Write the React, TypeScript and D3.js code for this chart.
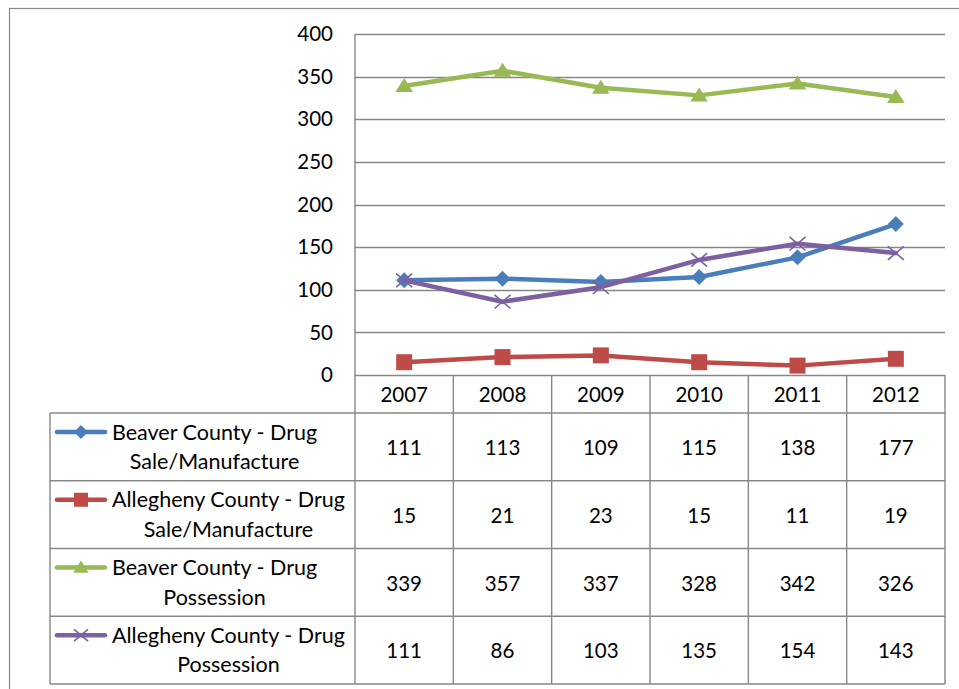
import React, { useEffect, useRef } from "react";
import * as d3 from "d3";

// Drug arrests by county, 2007–2012
const years = ["2007", "2008", "2009", "2010", "2011", "2012"];
const seriesNames = [
  ["Beaver County - Drug", "Sale/Manufacture"],
  ["Allegheny County - Drug", "Sale/Manufacture"],
  ["Beaver County - Drug", "Possession"],
  ["Allegheny County - Drug", "Possession"],
];
const beaverSale = [111, 113, 109, 115, 138, 177];
const alleghenySale = [15, 21, 23, 15, 11, 19];
const beaverPossession = [339, 357, 337, 328, 342, 326];
const alleghenyPossession = [111, 86, 103, 135, 154, 143];
const yTicks = [0, 50, 100, 150, 200, 250, 300, 350, 400];

const seriesValues = [beaverSale, alleghenySale, beaverPossession, alleghenyPossession];
const seriesColors = ["#4A7EBB", "#BE4B48", "#98B954", "#7D60A0"];
const seriesMarkers = ["diamond", "square", "triangle", "cross"];

const W = 959;
const H = 689;
const FONT = "Lato, 'Open Sans', sans-serif";
const GRID = "#878787";
const NUM_SIZE = 20.5;
const LABEL_SIZE = 21.5;

export default function App() {
  const ref = useRef<SVGSVGElement | null>(null);

  useEffect(() => {
    const svg = d3.select(ref.current);
    svg.selectAll("*").remove();

    const plotLeft = 355;
    const plotRight = 945;
    const plotTop = 34;
    const plotBottom = 375;
    const tableLeft = 50;
    const headerBottom = 413;
    const tableBottom = 684;
    const rowH = (tableBottom - headerBottom) / seriesNames.length;

    const x = d3.scaleBand<string>().domain(years).range([plotLeft, plotRight]);
    const y = d3.scaleLinear().domain([0, 400]).range([plotBottom, plotTop]);
    const cx = (yr: string) => (x(yr) ?? 0) + x.bandwidth() / 2;

    // outer chart frame
    svg
      .append("rect")
      .attr("x", 9.5)
      .attr("y", 8.5)
      .attr("width", W)
      .attr("height", H)
      .attr("fill", "#fff")
      .attr("stroke", GRID)
      .attr("stroke-width", 1.2);

    // horizontal gridlines
    svg
      .append("g")
      .selectAll("line")
      .data(yTicks)
      .join("line")
      .attr("x1", plotLeft)
      .attr("x2", plotRight)
      .attr("y1", (d) => Math.round(y(d)) + 0.5)
      .attr("y2", (d) => Math.round(y(d)) + 0.5)
      .attr("stroke", GRID)
      .attr("stroke-width", 1.3);

    // y tick labels
    svg
      .append("g")
      .selectAll("text")
      .data(yTicks)
      .join("text")
      .attr("x", 333)
      .attr("y", (d) => y(d))
      .attr("dy", "0.35em")
      .attr("text-anchor", "end")
      .attr("font-family", FONT)
      .attr("font-size", NUM_SIZE)
      .attr("fill", "#000")
      .text((d) => d);

    // data table grid
    const tbl = svg.append("g").attr("stroke", GRID).attr("stroke-width", 1.4);
    const rowLines = d3.range(seriesNames.length + 1).map((i) => headerBottom + i * rowH);
    tbl
      .selectAll("line.h")
      .data(rowLines)
      .join("line")
      .attr("x1", tableLeft)
      .attr("x2", plotRight)
      .attr("y1", (d) => d)
      .attr("y2", (d) => d);
    const colEdges = years.map((yr) => x(yr) ?? 0).concat([plotRight]);
    tbl
      .selectAll("line.v")
      .data(colEdges)
      .join("line")
      .attr("x1", (d) => d)
      .attr("x2", (d) => d)
      .attr("y1", (d, i) => (i === 0 ? plotTop : plotBottom))
      .attr("y2", tableBottom);
    tbl
      .append("line")
      .attr("x1", tableLeft)
      .attr("x2", tableLeft)
      .attr("y1", headerBottom)
      .attr("y2", tableBottom);

    // header years
    svg
      .append("g")
      .selectAll("text")
      .data(years)
      .join("text")
      .attr("x", (d) => cx(d))
      .attr("y", (plotBottom + headerBottom) / 2 + 1)
      .attr("dy", "0.35em")
      .attr("text-anchor", "middle")
      .attr("font-family", FONT)
      .attr("font-size", NUM_SIZE)
      .text((d) => d);

    const markerPath = (kind: string, size: number) => {
      const s = size / 2;
      if (kind === "diamond") return `M0,${-s}L${s},0L0,${s}L${-s},0Z`;
      if (kind === "square") return `M${-s},${-s}H${s}V${s}H${-s}Z`;
      if (kind === "triangle") return `M0,${-s}L${s * 1.1},${s * 0.75}L${-s * 1.1},${s * 0.75}Z`;
      return `M${-s},${-s * 0.85}L${s},${s * 0.85}M${-s},${s * 0.85}L${s},${-s * 0.85}`;
    };

    const drawMarker = (g: any, kind: string, color: string, size: number) => {
      const p = g.append("path").attr("d", markerPath(kind, size));
      if (kind === "cross") p.attr("fill", "none").attr("stroke", color).attr("stroke-width", 1.6);
      else p.attr("fill", color);
    };

    // series lines and markers
    const line = d3
      .line<number>()
      .x((_, i) => cx(years[i]))
      .y((d) => y(d));

    seriesValues.forEach((vals, si) => {
      const color = seriesColors[si];
      const g = svg.append("g");
      g.append("path")
        .attr("d", line(vals))
        .attr("fill", "none")
        .attr("stroke", color)
        .attr("stroke-width", 4.5)
        .attr("stroke-linejoin", "round")
        .attr("stroke-linecap", "round");
      vals.forEach((v, i) => {
        const mg = g.append("g").attr("transform", `translate(${cx(years[i])},${y(v)})`);
        drawMarker(mg, seriesMarkers[si], color, 16);
      });
    });

    // table rows: legend key, wrapped name, values
    seriesNames.forEach((lines, si) => {
      const top = headerBottom + si * rowH;
      const color = seriesColors[si];
      const keyY = top + 19;
      svg
        .append("line")
        .attr("x1", 57)
        .attr("x2", 105)
        .attr("y1", keyY)
        .attr("y2", keyY)
        .attr("stroke", color)
        .attr("stroke-width", 4.5)
        .attr("stroke-linecap", "round");
      const kg = svg.append("g").attr("transform", `translate(81,${keyY})`);
      drawMarker(kg, seriesMarkers[si], color, 14);

      const tg = svg.append("g");
      const texts = lines.map((t, li) =>
        tg
          .append("text")
          .attr("y", keyY + li * 29.5)
          .attr("dy", "0.35em")
          .attr("text-anchor", "middle")
          .attr("font-family", FONT)
          .attr("font-size", LABEL_SIZE)
          .text(t)
      );
      const widths = texts.map((t) => (t.node() as SVGTextElement).getComputedTextLength());
      const blockW = Math.max(...widths);
      texts.forEach((t) => t.attr("x", 112 + blockW / 2));

      svg
        .append("g")
        .selectAll("text")
        .data(seriesValues[si])
        .join("text")
        .attr("x", (_, i) => cx(years[i]))
        .attr("y", top + rowH / 2 + 1)
        .attr("dy", "0.35em")
        .attr("text-anchor", "middle")
        .attr("font-family", FONT)
        .attr("font-size", NUM_SIZE)
        .text((d) => d);
    });
  }, []);

  return (
    <svg
      ref={ref}
      width={W}
      height={H}
      style={{ position: "absolute", left: 0, top: 0, background: "#fff" }}
    />
  );
}
